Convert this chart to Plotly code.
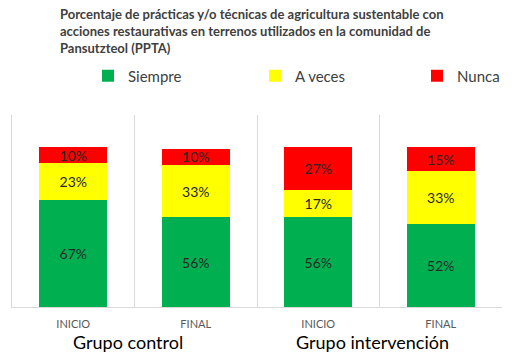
import plotly.graph_objects as go

categories = ["INICIO", "FINAL", "INICIO", "FINAL"]
groups = ["Grupo control", "Grupo intervención"]
siempre = [67, 56, 56, 52]
a_veces = [23, 33, 17, 33]
nunca = [10, 10, 27, 15]

series = [("Siempre", siempre, "#00B050"),
          ("A veces", a_veces, "#FFFF00"),
          ("Nunca", nunca, "#FF0000")]

FONT = "Lato"
W, H = 514, 357
ML, MR, MT, MB = 12, 12, 115, 50
PH = H - MT - MB
xpos = list(range(len(categories)))
legend_names = ["legend", "legend2", "legend3"]
legend_x = [88, 255, 417]

fig = go.Figure()
for (name, vals, color), lg in zip(series, legend_names):
    fig.add_trace(go.Bar(
        x=xpos, y=vals, name=name, marker_color=color, marker_line_width=0,
        width=0.555, texttemplate="%{y}%", textposition="inside",
        insidetextanchor="middle", constraintext="none", cliponaxis=False,
        textfont=dict(family=FONT, size=14, color="#262626"),
        hoverinfo="skip", legend=lg))

legend_common = dict(orientation="h", xref="container", yref="container",
                     xanchor="left", y=1 - 76 / H, yanchor="middle",
                     font=dict(family=FONT, size=15, color="#404040"),
                     bgcolor="rgba(0,0,0,0)")
layout_legends = {}
for lg, lx in zip(legend_names, legend_x):
    layout_legends[lg] = dict(legend_common, x=lx / W)

fig.update_layout(
    width=W, height=H, barmode="stack",
    margin=dict(l=ML, r=MR, t=MT, b=MB, autoexpand=False),
    plot_bgcolor="white", paper_bgcolor="white",
    font=dict(family=FONT, color="#404040"),
    showlegend=True,
    **layout_legends,
)
fig.add_annotation(
    text="<b>Porcentaje de prácticas y/o técnicas de agricultura sustentable con<br>"
         "acciones restaurativas en terrenos utilizados en la comunidad de<br>"
         "Pansutzteol (PPTA)</b>",
    xref="paper", yref="paper", x=(58 - ML) / (W - ML - MR), y=1 + (MT - 4) / PH,
    xanchor="left", yanchor="top", align="left", showarrow=False,
    font=dict(family=FONT, size=13, color="#404040"))

fig.update_xaxes(
    range=[-0.5, 3.5], tickvals=xpos, ticktext=categories,
    tickfont=dict(family=FONT, size=11, color="#595959"),
    ticklabelstandoff=7,
    showgrid=False, showline=True, linecolor="#D9D9D9", linewidth=1,
    ticks="", zeroline=False, fixedrange=True,
    minor=dict(tickvals=[0.5, 1.5, 2.5], showgrid=True,
               gridcolor="#D9D9D9", gridwidth=1, ticks=""))
fig.update_yaxes(
    range=[0, 120], showticklabels=False, showgrid=False,
    showline=True, linecolor="#D9D9D9", linewidth=1, zeroline=False,
    ticks="", fixedrange=True)

for gi, g in enumerate(groups):
    fig.add_annotation(
        x=2 * gi + 0.5, y=0, xref="x", yref="paper", yanchor="middle",
        yshift=-35, xshift=-7, text=g, showarrow=False,
        font=dict(family=FONT, size=18, color="#000000"))

fig.write_html(
    "out.html",
    config={"displayModeBar": False},
    post_script="document.body.style.margin='0';document.body.style.overflow='hidden';")
